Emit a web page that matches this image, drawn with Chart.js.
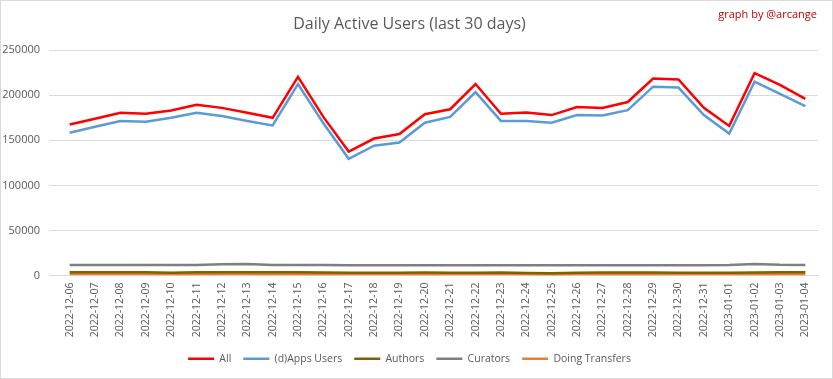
<!DOCTYPE html>
<html>
<head>
<meta charset="utf-8">
<script src="https://cdn.jsdelivr.net/npm/chart.js@4"></script>
<style>
  body { margin: 0; background: #fff; }
  #wrap { width: 831px; height: 377px; border: 1px solid #d9d9d9; }
</style>
</head>
<body>
<div id="wrap"><canvas id="grafico" width="831" height="377"></canvas></div>
<script>
const fechas = ["2022-12-06","2022-12-07","2022-12-08","2022-12-09","2022-12-10","2022-12-11","2022-12-12","2022-12-13","2022-12-14","2022-12-15","2022-12-16","2022-12-17","2022-12-18","2022-12-19","2022-12-20","2022-12-21","2022-12-22","2022-12-23","2022-12-24","2022-12-25","2022-12-26","2022-12-27","2022-12-28","2022-12-29","2022-12-30","2022-12-31","2023-01-01","2023-01-02","2023-01-03","2023-01-04"];

const todos = [167500,174000,180500,179500,183000,189500,186000,180500,175000,220500,176000,137500,152000,157000,179000,184500,212500,179500,181000,178000,187000,186000,192500,218500,217500,186000,166000,224500,211500,196000];
const apps = [158500,165000,171500,170500,175000,180500,177000,171500,166500,212500,169000,129500,144000,147500,169500,176000,203500,171500,171500,169500,178000,177500,183500,209500,208500,178000,157500,215000,201500,188000];
const autores = [3600,3600,3500,3500,3000,3500,3600,3600,3500,3500,3400,3000,3000,3000,3300,3000,3100,3300,2800,2600,3000,3400,3400,3300,3000,3000,3000,3200,3500,3500];
const curadores = [11600,11600,11600,11600,11600,11700,12600,12700,11700,11600,11600,11500,11500,11500,11500,11500,11500,11500,11500,11500,11500,11500,11500,11500,11500,11500,11600,12700,11800,11600];
const transferencias = [1600,1600,1600,1600,1500,1500,1600,1600,1500,1500,1500,1400,1400,1400,1500,1400,1500,1500,1300,1200,1400,1500,1500,1500,1400,1400,1300,1500,1500,1500];
const ticksY = [0,50000,100000,150000,200000,250000];

const fuente = "'Open Sans', 'DejaVu Sans', sans-serif";

// texto "graph by @arcange" arriba a la derecha
const firma = {
    id: "firma",
    afterDraw(chart) {
        const ctx = chart.ctx;
        ctx.save();
        ctx.font = "11px " + fuente;
        ctx.fillStyle = "#c00000";
        ctx.textAlign = "right";
        ctx.textBaseline = "middle";
        ctx.fillText("graph by @arcange", 816, 14);
        ctx.restore();
    }
};

const serie = (label, data, color, ancho) => ({
    label: label,
    data: data,
    borderColor: color,
    backgroundColor: color,
    borderWidth: ancho,
    pointRadius: 0,
    pointStyle: "line",
    tension: 0,
    fill: false
});

new Chart(document.getElementById("grafico").getContext("2d"), {
    type: "line",
    data: {
        labels: fechas,
        datasets: [
            serie("All", todos, "#ff0000", 2.5),
            serie("(d)Apps Users", apps, "#5b9bd5", 2.5),
            serie("Authors", autores, "#806000", 2.5),
            serie("Curators", curadores, "#7f7f7f", 2.5),
            serie("Doing Transfers", transferencias, "#ed7d31", 2.5)
        ]
    },
    options: {
        responsive: false,
        animation: false,
        layout: { padding: { left: 0, right: 14, top: 0, bottom: 4 } },
        plugins: {
            title: {
                display: true,
                text: "Daily Active Users (last 30 days)",
                color: "#595959",
                font: { family: fuente, size: 16, weight: "normal" },
                padding: { top: 14, bottom: 16 }
            },
            legend: {
                position: "bottom",
                labels: {
                    color: "#595959",
                    font: { family: fuente, size: 10.5 },
                    usePointStyle: true,
                    pointStyleWidth: 26,
                    boxHeight: 2,
                    padding: 12
                }
            },
            tooltip: { enabled: false }
        },
        scales: {
            x: {
                offset: true,
                grid: { display: false, drawTicks: false },
                border: { display: true, color: "#d9d9d9" },
                afterFit: axis => { axis.height = 66; },
                ticks: {
                    color: "#595959",
                    font: { family: fuente, size: 10.5 },
                    minRotation: 90,
                    maxRotation: 90,
                    autoSkip: false,
                    padding: 7
                }
            },
            y: {
                min: 0,
                max: 250000,
                afterBuildTicks: axis => { axis.ticks = ticksY.map(v => ({ value: v })); },
                afterFit: axis => { axis.width = 56; },
                grid: { color: "#d9d9d9" },
                border: { display: false },
                ticks: {
                    color: "#595959",
                    font: { family: fuente, size: 11 },
                    padding: 9,
                    callback: v => String(v)
                }
            }
        }
    },
    plugins: [firma]
});
</script>
</body>
</html>
